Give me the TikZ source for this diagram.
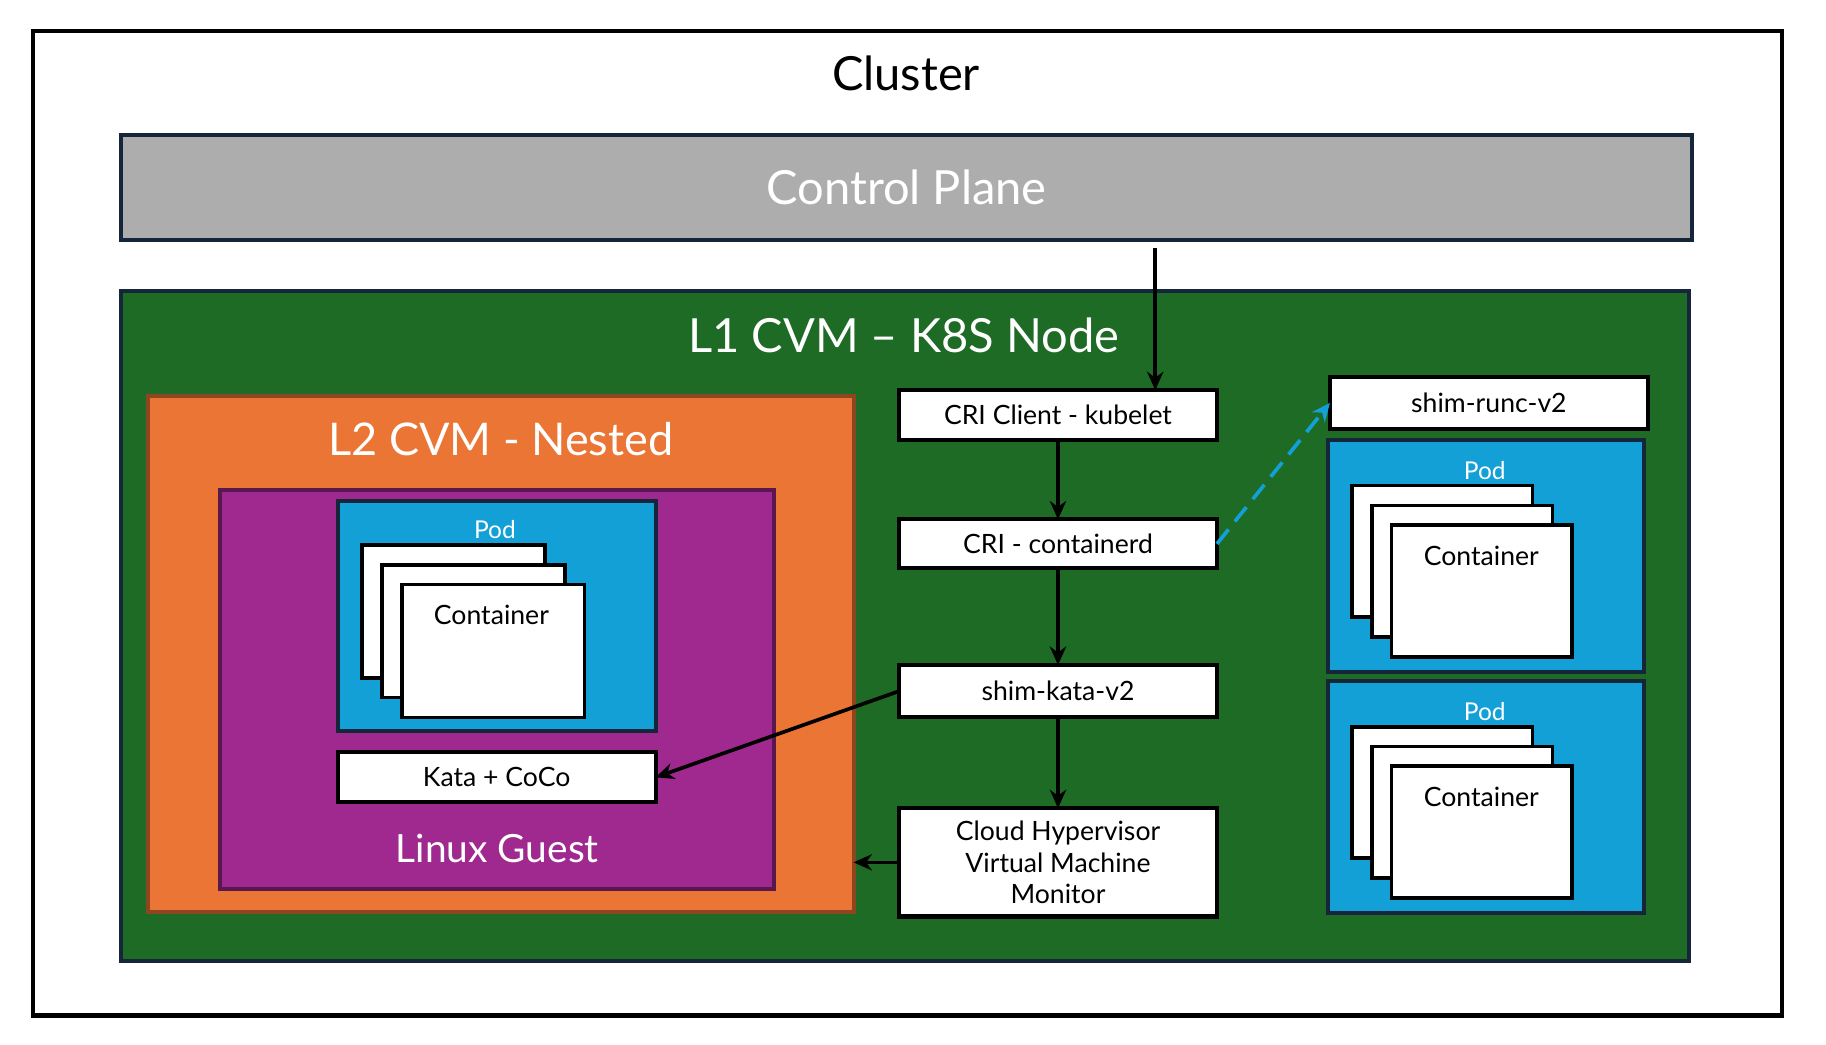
\documentclass[tikz,border=0pt]{standalone}
\usepackage{fontspec}
\setmainfont{Lato}
\usetikzlibrary{arrows.meta,fit,calc}
\definecolor{planegray}{HTML}{ADADAD}
\definecolor{navyline}{HTML}{15263A}
\definecolor{nodegreen}{HTML}{1D6B24}
\definecolor{nestorange}{HTML}{EB7535}
\definecolor{guestpurple}{HTML}{A0298F}
\definecolor{podblue}{HTML}{12A0D7}
\tikzset{
	area/.style={inner sep=0pt, outer sep=0pt, line width=2pt},
	box/.style={area, draw=black, fill=white},
	pod/.style={area, draw=navyline, fill=podblue},
	ctr/.style={area, draw=black, fill=white, line width=1.8pt},
	lbl/.style={font=\fontsize{13}{15.5}\selectfont, align=center},
	title/.style={text=white, font=\fontsize{#1}{#1}\selectfont},
	flow/.style={-{Stealth[length=9pt,width=8pt]}, line width=1.8pt}
}
\begin{document}
\begin{tikzpicture}[x=0.02cm, y=-0.02cm]
  \useasboundingbox (0,0) rectangle (1568,896.5);
  % cluster
  \node[area, draw=black, line width=2pt, fit={(28,27) (1530,872)}] (cluster) {};
  \node[font=\fontsize{23}{23}\selectfont] (clustertitle) at (778,63) {Cluster};
  \node[area, draw=navyline, fill=planegray, fit={(104,116) (1453,206)}] (plane) {};
  \node[title=23] at (plane.center) {Control Plane};
  % kubernetes node
  \node[area, draw=navyline, fill=nodegreen, fit={(104,250) (1450,825)}] (k8s) {};
  \node[title=23] (k8stitle) at (776,288) {L1 CVM -- K8S Node};
  % nested vm
  \node[area, draw=nestorange!60!black, fill=nestorange, fit={(127,340) (733,783)}] (nested) {};
  \node[title=22] (nestedtitle) at (430,377) {L2 CVM - Nested};
  \node[area, draw=guestpurple!55!black, fill=guestpurple, fit={(189,421) (665,763)}] (guest) {};
  \node[title=19] (guesttitle) at (427,729) {Linux Guest};
  \node[pod, fit={(290,430) (563,628)}] (podL) {};
  \node[title=12] at (425,455) {Pod};
  \foreach \d in {0,17,34}
    \node[ctr, fit={(311+\d,468+\d) (468+\d,582+\d)}] {};
  \node[lbl] at (422,528) {Container};
  \node[box, fit={(290,646) (563,689)}] (kata) {};
  \node[lbl] at (kata) {Kata + CoCo};
  % runtime chain
  \node[box, fit={(772,335) (1045,378)}] (kubelet) {};
  \node[lbl] at (kubelet) {CRI Client - kubelet};
  \node[box, fit={(772,446) (1045,488)}] (containerd) {};
  \node[lbl] at (containerd) {CRI - containerd};
  \node[box, fit={(772,571) (1045,616)}] (kata2) {};
  \node[lbl] at (kata2) {shim-kata-v2};
  \node[box, fit={(772,694) (1045,787)}] (chv) {};
  \node[lbl] at (chv) {Cloud Hypervisor\\Virtual Machine\\Monitor};
  \node[box, fit={(1142,324) (1415,368)}] (runc) {};
  \node[lbl] at (runc) {shim-runc-v2};
  % runc pods
  \foreach \o/\n in {0/podA,207/podB} {
    \node[pod, fit={(1140,378+\o) (1412,577+\o)}] (\n) {};
    \node[title=12] at (1275,404+\o) {Pod};
    \foreach \d in {0,17,34}
      \node[ctr, fit={(1161+\d,417+\o+\d) (1316+\d,530+\o+\d)}] {};
    \node[lbl] at (1272,477+\o) {Container};
  }
  % connectors
  \coordinate (planeout) at (992,213);
  \draw[flow] (planeout) -- (planeout |- kubelet.north);
  \draw[flow] (kubelet.south) -- (containerd.north);
  \draw[flow] (containerd.south) -- (kata2.north);
  \draw[flow] (kata2.south) -- (chv.north);
  \draw[flow] (kata2.west) -- (kata.east);
  \draw[flow] (chv.west) -- (nested.east |- chv.west);
  \draw[flow, podblue, dash pattern=on 9pt off 5pt] (containerd.east) -- (runc.west);
\end{tikzpicture}
\end{document}
